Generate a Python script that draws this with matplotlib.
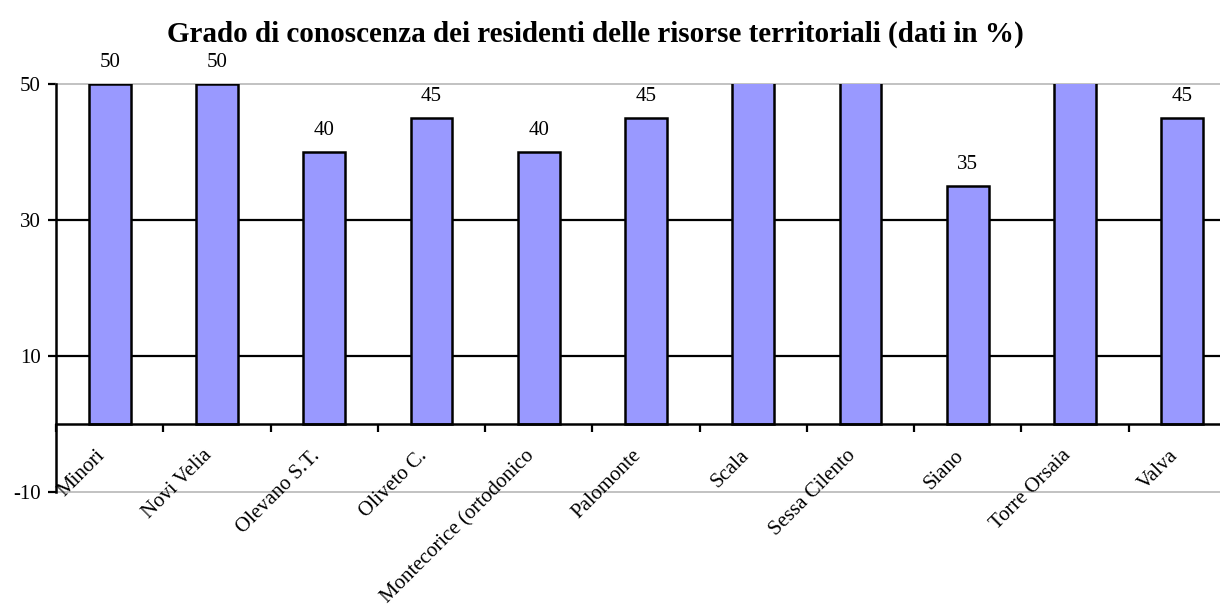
import numpy as np
import matplotlib.pyplot as plt
import matplotlib.transforms as mtransforms
from matplotlib.ticker import FixedLocator, NullFormatter

comuni = ["Minori", "Novi Velia", "Olevano S.T.", "Oliveto C.", "Montecorice (ortodonico",
          "Palomonte", "Scala", "Sessa Cilento", "Siano", "Torre Orsaia", "Valva"]
valori = [50, 50, 40, 45, 40, 45, 60, 60, 35, 60, 45]
y_ticks = [-10, 10, 30, 50]

plt.rcParams['font.family'] = ['Liberation Serif', 'DejaVu Serif']
plt.rcParams['axes.unicode_minus'] = False

fig = plt.figure(figsize=(12.2, 6.08), dpi=100)
ax = fig.add_axes([56 / 1220, 1 - 492 / 608, 1180 / 1220, 408 / 608])

x = np.arange(len(comuni))
ax.bar(x, valori, width=0.39, color='#9999FF', edgecolor='black', linewidth=1.8, zorder=3)

# etichette solo per le barre che non escono dal grafico
for xi, v in zip(x, valori):
    if v <= 50:
        ax.text(xi, v + 2.5, str(v), ha='center', va='baseline', fontsize=15,
                clip_on=False, zorder=4)

ax.set_xlim(-0.5, len(comuni) - 0.5)
ax.set_ylim(-10, 50)

for g in [10, 30]:
    ax.axhline(g, color='black', linewidth=1.6, zorder=1)
ax.axhline(-10, color='#b8b8b8', linewidth=1.2, zorder=1, clip_on=False)

ax.spines['top'].set_color('#b8b8b8')
ax.spines['top'].set_linewidth(1.2)
ax.spines['right'].set_visible(False)
ax.spines['left'].set_linewidth(1.8)
ax.spines['left'].set_zorder(5)
ax.spines['bottom'].set_position(('data', 0))
ax.spines['bottom'].set_linewidth(1.8)
ax.spines['bottom'].set_zorder(5)

ax.set_yticks(y_ticks)
ax.tick_params(axis='y', direction='out', length=6, width=1.6, labelsize=15, pad=5)

ax.xaxis.set_major_locator(FixedLocator(np.arange(-0.5, len(comuni), 1.0)))
ax.xaxis.set_major_formatter(NullFormatter())
ax.xaxis.set_minor_locator(FixedLocator(x))
ax.set_xticklabels(comuni, minor=True)
ax.tick_params(axis='x', which='major', direction='out', length=6, width=1.6)
ax.tick_params(axis='x', which='minor', length=0, pad=16, labelsize=15)
offset = mtransforms.ScaledTranslation(-0.14, 0, fig.dpi_scale_trans)
for lbl in ax.get_xticklabels(minor=True):
    lbl.set_rotation(45)
    lbl.set_ha('right')
    lbl.set_va('top')
    lbl.set_rotation_mode('anchor')
    lbl.set_transform(lbl.get_transform() + offset)

fig.text(0.488, 0.944, "Grado di conoscenza dei residenti delle risorse territoriali (dati in %)",
         ha='center', va='center', fontsize=21, fontweight='bold')

fig.savefig("out.png", dpi=100)
